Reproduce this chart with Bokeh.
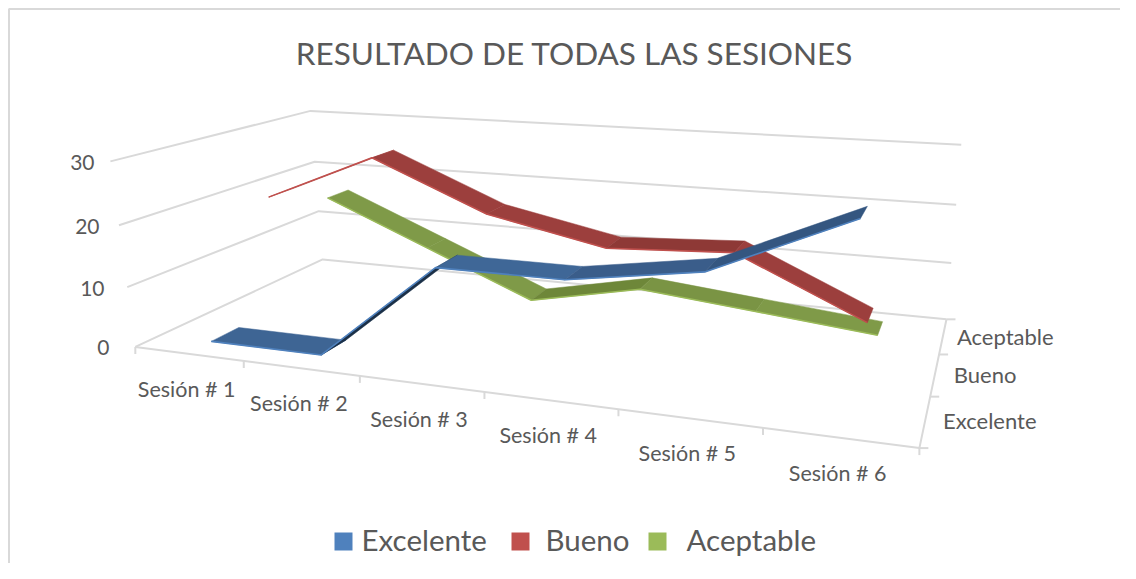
import numpy as np
from bokeh.plotting import figure
from bokeh.models import Range1d
from bokeh.core.properties import value
from bokeh.embed import file_html
from bokeh.resources import INLINE

TITLE = "RESULTADO DE TODAS LAS SESIONES"
sessions = ["Sesión # 1", "Sesión # 2", "Sesión # 3", "Sesión # 4", "Sesión # 5", "Sesión # 6"]
series_names = ["Excelente", "Bueno", "Aceptable"]
excelente = [0, 0, 16, 16, 19, 28]
bueno = [20, 28, 20, 16, 17, 8]
aceptable = [16, 8, 0, 4, 2, 0]
value_ticks = [0, 10, 20, 30]
edge_colors = ["#4F81BD", "#C0504D", "#9BBB59"]
face_colors = [
    ["#3E6594", "#1B3048", "#3F6797", "#3A5D8A", "#345680"],
    ["#B04A47", "#9C3F3D", "#9C3F3D", "#8E3936", "#9C3F3D"],
    ["#7F9A48", "#7F9A48", "#6E8739", "#7A9444", "#7F9A48"],
]
GRID = "#D9D9D9"
TEXT = "#595959"
FONT = value("Lato")

# Perspective cameras of the 3-D box: (session position, depth, value) -> picture pixels
FRAME_CAM = np.array([
    [1.00458403e+02, 9.09566577e+01, -1.00619693e+00, 1.34814421e+02],
    [2.14289385e+00, -6.24896956e+00, -6.44151546e+00, 3.46421447e+02],
    [-3.28871093e-02, 8.84841124e-02, -1.59483473e-03, 1.0],
])
RIBBON_CAM = np.array([
    [100.94795128062238, 90.8742960291147, -0.8288120781552426, 131.58843611905942],
    [2.015217530888429, -6.202287584867442, -6.417986358870619, 346.9947038728789],
    [-0.033119551965768323, 0.08875376793811363, -0.0014387869193797087, 1.0],
])
def cam(M, x, d, z):
    w = M @ np.array([x, d, z, 1.0])
    return float(w[0] / w[2]), float(w[1] / w[2])
def proj(x, d, z):
    return cam(FRAME_CAM, x, d, z)
def rproj(x, d, z):
    return cam(RIBBON_CAM, x, d, z)

p = figure(width=1120, height=563, x_range=Range1d(0, 1120), y_range=Range1d(563, 0),
           output_backend="svg", toolbar_location=None, min_border=0)
p.xaxis.visible = False
p.yaxis.visible = False
p.xgrid.visible = False
p.ygrid.visible = False
p.outline_line_color = None
p.background_fill_color = "white"

# chart frame
p.line([8.5, 8.5, 1120], [563, 8.5, 8.5], line_color=GRID, line_width=2)

n = len(sessions)
m = len(series_names)
# walls' gridlines
for v in value_ticks:
    a, b, c = proj(0, 0, v), proj(0, m, v), proj(n, m, v)
    p.line([a[0], b[0], c[0]], [a[1], b[1], c[1]], line_color=GRID, line_width=2)
# floor axes
a, b, c = proj(0, 0, 0), proj(n, 0, 0), proj(n, m, 0)
p.line([a[0], b[0], c[0]], [a[1], b[1], c[1]], line_color=GRID, line_width=2)
for i in range(n + 1):
    t = proj(i, 0, 0)
    p.line([t[0], t[0]], [t[1], t[1] + 7], line_color=GRID, line_width=2)
for j in range(m + 1):
    t = proj(n, j, 0)
    p.line([t[0], t[0] + 9], [t[1], t[1]], line_color=GRID, line_width=2)

# ribbons, farthest first
all_series = [excelente, bueno, aceptable]
for s in reversed(range(m)):
    vals = all_series[s]
    d0, d1 = s + 0.35, s + 0.75
    xs, ys, cols = [], [], []
    for i in range(n - 1):
        corners = [rproj(i + .5, d0, vals[i]), rproj(i + 1.5, d0, vals[i + 1]),
                   rproj(i + 1.5, d1, vals[i + 1]), rproj(i + .5, d1, vals[i])]
        xs.append([q[0] for q in corners])
        ys.append([q[1] for q in corners])
        cols.append(face_colors[s][i])
    p.patches(xs, ys, fill_color=cols, line_color=cols, line_width=0.5)
    front = [rproj(i + .5, d0, vals[i]) for i in range(n)]
    p.line([q[0] for q in front], [q[1] for q in front], line_color=edge_colors[s], line_width=1.6)

# value labels, following the leaning wall edge
vx = [109 - 0.5 * v for v in value_ticks]
vy = [proj(0, 0, v)[1] + 1 for v in value_ticks]
p.text(vx, vy, text=[str(v) for v in value_ticks], text_font=FONT,
       text_font_size="21px", text_color=TEXT, text_align="right", text_baseline="middle")
# session labels
sx = [proj(i + .5, 0, 0)[0] - 2 for i in range(n)]
sy = [proj(i + .5, 0, 0)[1] + 35 for i in range(n)]
p.text(sx, sy, text=sessions, text_font=FONT, text_font_size="21.5px", text_color=TEXT,
       text_align="center", text_baseline="middle")
# depth labels
dx = [proj(n, j + .5, 0)[0] + off for j, off in enumerate([18, 19, 14])]
dy = [proj(n, j + .5, 0)[1] - (1 if j == 0 else 0) for j in range(m)]
p.text(dx, dy, text=series_names, text_font=FONT, text_font_size="22px", text_color=TEXT,
       text_align="left", text_baseline="middle")
# title
p.text([574], [52.5], text=[TITLE], text_font=FONT, text_font_size="31.5px", text_color=TEXT,
       text_align="center", text_baseline="middle")
# legend
legend_box_x = [343, 520, 657]
legend_text_x = [361, 545, 686]
p.rect(legend_box_x, [541] * m, width=18, height=18, fill_color=edge_colors, line_color=None)
p.text(legend_text_x, [539] * m, text=series_names, text_font=FONT, text_font_size="29.5px",
       text_color=TEXT, text_align="left", text_baseline="middle")

open("out.html", "w").write(file_html(p, INLINE))
